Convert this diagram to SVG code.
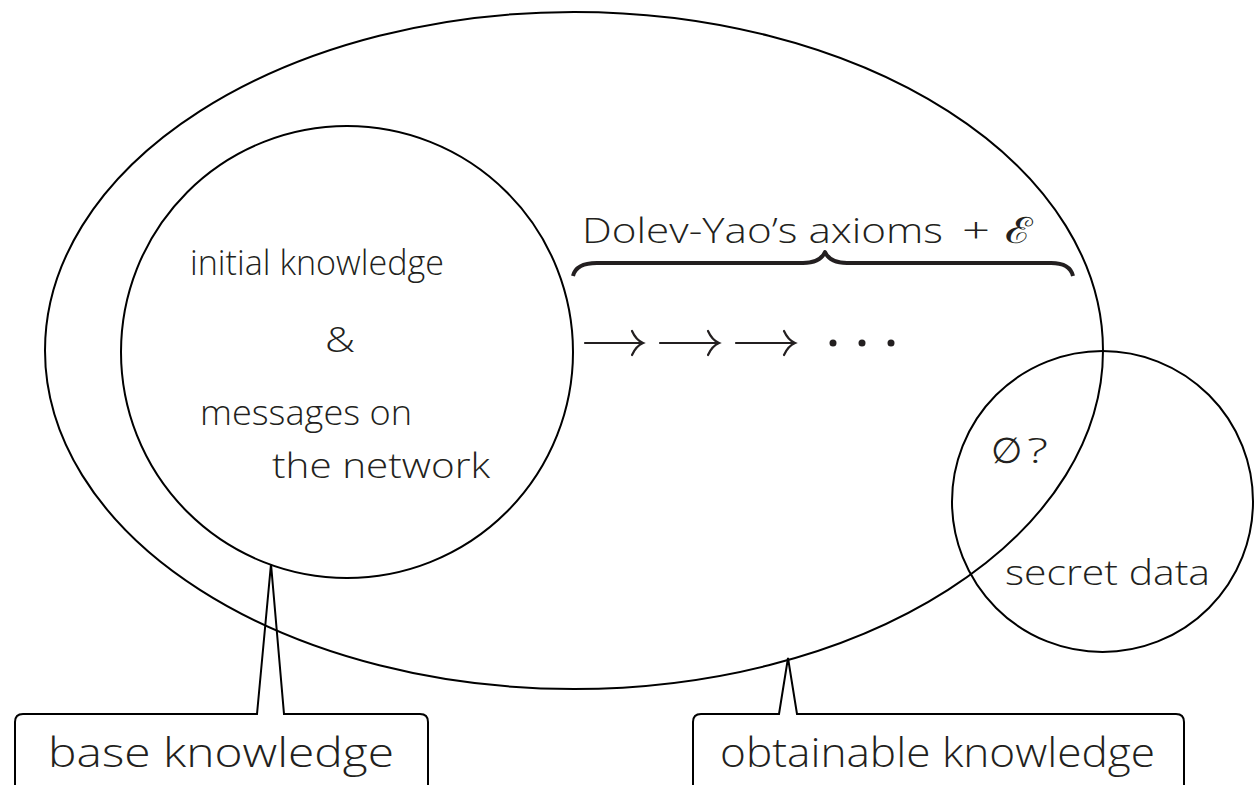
<svg xmlns="http://www.w3.org/2000/svg" width="1258" height="785" viewBox="0 0 1258 785">
  <style>
    .outline { fill: none; stroke: #000; stroke-width: 2; }
    .label { font-family: "Open Sans", "Liberation Sans", Arial, sans-serif; font-weight: 300; fill: #231f20; }
    .inner { font-size: 34px; }
    .callout-text { font-size: 41px; }
    .symbol { font-family: "DejaVu Sans", sans-serif; font-weight: 200; fill: #231f20; }
    .math { fill: none; stroke: #231f20; stroke-width: 2.2; stroke-linecap: round; }
  </style>

  <rect width="1258" height="785" fill="#fff"/>

  <!-- obtainable knowledge: the large ellipse -->
  <g id="obtainable-set">
    <ellipse class="outline" cx="574" cy="350.5" rx="529" ry="338.5"/>
  </g>

  <!-- base knowledge: the inner circle -->
  <g id="base-set">
    <circle class="outline" cx="347" cy="352" r="226"/>
    <text class="label inner" x="190" y="275" textLength="254" lengthAdjust="spacingAndGlyphs">initial knowledge</text>
    <text class="label inner" x="325" y="352" textLength="30" lengthAdjust="spacingAndGlyphs">&amp;</text>
    <text class="label inner" x="200" y="425" textLength="212" lengthAdjust="spacingAndGlyphs">messages on</text>
    <text class="label inner" x="272" y="478" textLength="218" lengthAdjust="spacingAndGlyphs">the network</text>
  </g>

  <!-- secret data circle -->
  <g id="secret-set">
    <circle class="outline" cx="1102.5" cy="501.5" r="150.5"/>
    <text class="symbol" x="991" y="463" font-size="36" textLength="31" lengthAdjust="spacingAndGlyphs">∅</text>
    <text class="label inner" x="1027" y="463" textLength="21" lengthAdjust="spacingAndGlyphs">?</text>
    <text class="label inner" x="1005" y="585" textLength="205" lengthAdjust="spacingAndGlyphs">secret data</text>
  </g>

  <!-- brace with its label -->
  <g id="axioms">
    <path d="M573,276 Q576,263 597,263 L803,263 Q820,263 825,252 Q830,263 847,263 L1051,263 Q1070,263 1073,276" fill="none" stroke="#231f20" stroke-width="4" stroke-linejoin="round"/>
    <text class="label inner" x="582" y="243" textLength="361" lengthAdjust="spacingAndGlyphs">Dolev-Yao’s axioms</text>
    <text class="label inner" x="962" y="243" textLength="28" lengthAdjust="spacingAndGlyphs">+</text>
    <text class="symbol" x="1005" y="243" font-size="36" textLength="28" lengthAdjust="spacingAndGlyphs">ℰ</text>
  </g>

  <!-- derivation steps -->
  <g id="connectors">
    <path class="math" d="M585,343 H642 M632,331 Q636,340 643,343 Q636,346 632,355"/>
    <path class="math" d="M660,343 H718 M708,331 Q712,340 719,343 Q712,346 708,355"/>
    <path class="math" d="M736,343 H794 M784,331 Q788,340 795,343 Q788,346 784,355"/>
    <circle cx="833" cy="343" r="3.5" fill="#231f20"/>
    <circle cx="862" cy="343" r="3.5" fill="#231f20"/>
    <circle cx="891" cy="343" r="3.5" fill="#231f20"/>
  </g>

  <!-- callout: base knowledge -->
  <g id="callout-base">
    <path class="outline" d="M257,714 L271,564 L284,714 H420 Q428,714 428,722 V792 H15 V722 Q15,714 23,714 Z"/>
    <text class="label callout-text" x="48" y="767" textLength="346" lengthAdjust="spacingAndGlyphs">base knowledge</text>
  </g>

  <!-- callout: obtainable knowledge -->
  <g id="callout-obtainable">
    <path class="outline" d="M779,714 L788,658 L797,714 H1176 Q1184,714 1184,722 V792 H693 V722 Q693,714 701,714 Z"/>
    <text class="label callout-text" x="720" y="767" textLength="435" lengthAdjust="spacingAndGlyphs">obtainable knowledge</text>
  </g>
</svg>
